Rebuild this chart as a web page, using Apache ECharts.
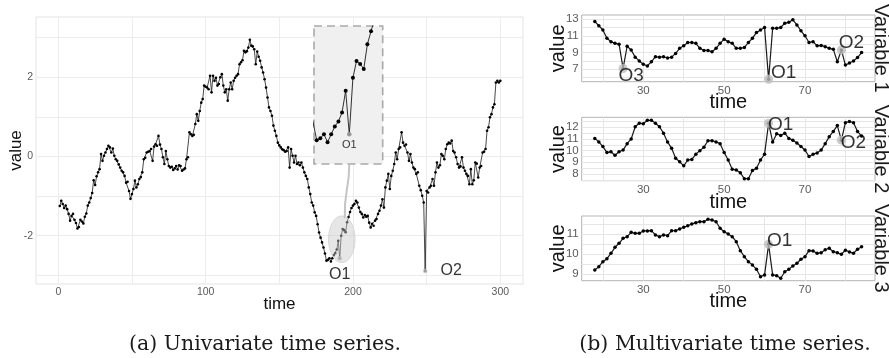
<!DOCTYPE html>
<html>
<head>
<meta charset="utf-8">
<script src="https://cdn.jsdelivr.net/npm/echarts@6/dist/echarts.min.js"></script>
<style>
  html, body { margin: 0; padding: 0; background: #fff; }
  #chart { width: 889px; height: 358px; }
</style>
</head>
<body>
<div id="chart"></div>
<script>
// ---- (a) univariate series, t = 1..300 ----
const uniStart = 1;
const uniValues = [
  -1.25, -1.12, -1.2, -1.3, -1.24, -1.33, -1.45, -1.62, -1.5, -1.45,
  -1.6, -1.68, -1.82, -1.78, -1.6, -1.64, -1.69, -1.52, -1.44, -1.24,
  -1.16, -1.05, -0.92, -0.6, -0.72, -0.5, -0.4, -0.32, 0.06, -0.11,
  0.02, 0.1, 0.19, 0.27, 0.23, 0.1, 0.2, 0.02, -0.07, -0.11,
  -0.2, -0.28, -0.36, -0.4, -0.49, -0.66, -0.64, -0.87, -1.07, -0.95,
  -0.82, -0.61, -0.78, -0.7, -0.57, -0.52, -0.4, -0.07, -0.03, 0.1,
  0.12, 0.14, 0.19, -0.11, 0.25, 0.31, 0.27, 0.52, 0.3, 0.19,
  -0.02, -0.19, 0.14, -0.07, -0.24, -0.28, -0.26, -0.34, -0.3, -0.24,
  -0.33, -0.22, -0.24, -0.36, -0.33, -0.3, -0.07, -0.02, 0.61, 0.56,
  0.52, 0.55, 0.82, 1.07, 0.9, 1.15, 1.36, 1.45, 1.79, 1.76,
  1.74, 1.7, 2.04, 1.62, 2.04, 1.91, 1.99, 1.79, 1.83, 2.0,
  2.08, 1.79, 1.62, 1.7, 1.41, 1.7, 1.87, 1.7, 1.91, 1.99,
  2.04, 2.08, 2.33, 2.38, 2.43, 2.67, 2.63, 2.66, 2.75, 2.95,
  2.8, 2.78, 2.71, 2.33, 2.65, 2.52, 2.42, 2.25, 2.12, 1.95,
  1.74, 1.49, 1.24, 1.15, 1.03, 0.78, 0.65, 0.52, 0.35, 0.28,
  0.23, 0.18, 0.16, 0.12, 0.14, 0.23, -0.28, 0.19, 0.02, -0.15,
  0.02, -0.19, -0.15, -0.22, -0.15, -0.28, -0.4, -0.49, -0.57, -0.78,
  -0.95, -1.16, -1.24, -1.41, -1.5, -1.71, -1.92, -2.05, -2.17, -2.3,
  -2.45, -2.63, -2.61, -2.57, -2.65, -2.57, -2.49, -2.44, -2.35, -2.13,
  -2.57, -2.0, -1.83, -1.86, -1.91, -1.66, -1.53, -1.4, -1.3, -1.24,
  -1.2, -1.12, -1.16, -1.29, -1.4, -1.45, -1.54, -1.48, -1.52, -1.5,
  -1.67, -1.79, -1.7, -1.75, -1.62, -1.58, -1.45, -1.37, -1.24, -1.08,
  -1.29, -0.78, -0.61, -0.44, -0.82, -0.49, -0.36, -0.19, 0.1, -0.07,
  0.19, 0.23, 0.61, 0.35, 0.27, 0.3, 0.1, -0.11, 0.06, -0.15,
  -0.28, -0.32, -0.44, -0.4, -0.74, -0.85, -0.99, -1.16, -2.89, -0.87,
  -0.91, -0.78, -0.74, -0.57, -0.74, -0.4, -0.15, -0.28, -0.22, 0.06,
  0.02, -0.07, 0.19, 0.31, 0.35, 0.33, 0.4, 0.14, 0.1, -0.02,
  -0.19, -0.28, -0.25, -0.02, -0.28, -0.36, -0.44, -0.49, -0.7, -0.32,
  -0.7, -0.6, -0.15, -0.18, -0.53, -0.28, -0.24, 0.1, 0.12, 0.19,
  0.65, 0.74, 0.99, 1.07, 1.24, 1.32, 1.87, 1.91, 1.87, 1.91
];
const uniOutliers = [[191, 'O1'], [249, 'O2']];
const uniXLabels = [0, 100, 200, 300];
const uniXGrid = [0, 50, 100, 150, 200, 250, 300];
const uniYLabels = [-2, 0, 2];
const uniYGrid = [-3, -2, -1, 0, 1, 2, 3];
const insetRange = [180, 200];   // points repeated in the zoom box

// ---- (b) multivariate series, t = 18..84 ----
const multiStart = 18;
const var1 = [
  12.7, 12.2, 11.7, 10.7, 10.3, 10.1, 10.0, 7.1, 9.75, 9.3,
  8.45, 8.0, 7.6, 7.4, 7.9, 8.5, 8.45, 8.5, 8.35, 8.45,
  8.9, 9.5, 9.8, 10.2, 10.2, 10.1, 9.5, 9.25, 9.25, 9.1,
  9.5, 10.1, 10.6, 10.3, 10.1, 9.5, 9.5, 9.6, 10.2, 10.7,
  11.4, 11.7, 12.0, 5.8, 11.9, 11.9, 12.0, 12.5, 12.6, 12.9,
  12.3, 11.6, 11.0, 10.2, 10.3, 9.8, 9.85, 9.7, 9.5, 9.4,
  7.9, 9.3, 7.5, 7.75, 8.0, 8.4, 9.0
];
const var2 = [
  11.05, 10.75, 10.35, 9.85, 9.9, 9.6, 9.9, 10.05, 10.6, 11.0,
  12.05, 12.35, 12.3, 12.6, 12.6, 12.35, 12.05, 11.5, 10.75, 10.2,
  9.35, 9.05, 8.7, 9.2, 9.25, 9.7, 10.0, 10.3, 10.85, 10.85,
  10.75, 10.6, 9.85, 9.2, 8.4, 8.35, 8.1, 7.6, 7.6, 8.3,
  8.5, 9.2, 9.7, 12.35, 10.75, 11.45, 11.3, 11.5, 11.05, 10.9,
  10.65, 10.35, 10.05, 9.5, 9.7, 9.8, 10.05, 10.6, 11.2, 11.65,
  12.15, 10.9, 12.4, 12.5, 12.4, 11.65, 11.25
];
const var3 = [
  9.22, 9.38, 9.63, 9.78, 10.05, 10.35, 10.55, 10.8, 10.88, 11.1,
  11.05, 11.05, 11.17, 11.17, 11.18, 10.97, 10.88, 10.97, 10.93, 11.18,
  11.18, 11.27, 11.35, 11.43, 11.52, 11.58, 11.63, 11.63, 11.75, 11.72,
  11.63, 11.3, 11.13, 11.02, 10.88, 10.63, 10.18, 9.88, 9.63, 9.47,
  9.25, 8.88, 8.97, 10.5, 8.97, 8.93, 8.8, 9.13, 9.25, 9.42,
  9.55, 9.75, 9.88, 10.18, 10.17, 10.05, 10.08, 10.23, 10.3, 10.13,
  10.08, 10.0, 10.2, 10.12, 10.05, 10.25, 10.38
];
const var1Outliers = [[25, 'O3'], [61, 'O1'], [79, 'O2']];
const var2Outliers = [[61, 'O1'], [79, 'O2']];
const var3Outliers = [[61, 'O1']];
const multiXLabels = [30, 50, 70];
const multiXGrid = [20, 30, 40, 50, 60, 70, 80];
const var1YLabels = [7, 9, 11, 13];
const var1YGrid = [6, 7, 8, 9, 10, 11, 12, 13];
const var2YLabels = [8, 10, 12];
const var2YLabelsOdd = [9, 11];   // drawn on a twin axis so none get dropped
const var2YGrid = [7.5, 8, 8.5, 9, 9.5, 10, 10.5, 11, 11.5, 12, 12.5];
const var3YLabels = [9, 10, 11];
const var3YGrid = [9, 9.5, 10, 10.5, 11, 11.5];
const stripNames = ['Variable 1', 'Variable 2', 'Variable 3'];
const captions = ['(a) Univariate time series.', '(b) Multivariate time series.'];

// label nudges (pixels) for the outlier tags
const nudge = {
  main: { O1: [0, 16], O2: [26, 0] },
  inset: { O1: [0, 11] },
  v1: { O3: [8, 7], O1: [15, -7], O2: [10, -7] },
  v2: { O1: [12, 2], O2: [12, 3] },
  v3: { O1: [11, -4] }
};

const SANS = 'Liberation Sans';
const pairs = (start, vals) => vals.map((v, i) => [start + i, v]);
const pick = (start, vals, outs) => outs.map(([t, name]) => ({ value: [t, vals[t - start]], name }));

function axis(gridIndex, min, max, labels, lines, o) {
  return Object.assign({
    type: 'value', gridIndex, min, max,
    axisLine: { show: false },
    axisTick: { show: false, customValues: lines },
    axisLabel: { customValues: labels, color: '#5a5a5a', fontFamily: SANS, fontSize: 11.5, margin: 3,
      interval: 0, showMinLabel: true, showMaxLabel: true, hideOverlap: false },
    splitLine: { show: true, lineStyle: { color: '#e6e6e6', width: 1 } },
    nameLocation: 'middle',
    nameMoveOverlap: false,
    nameTextStyle: { color: '#111', fontFamily: SANS, fontSize: 20 }
  }, o);
}

function lineSeries(xi, data, size, width) {
  return {
    type: 'line', xAxisIndex: xi, yAxisIndex: xi, data,
    symbol: 'circle', symbolSize: size, showSymbol: true,
    lineStyle: { color: '#1a1a1a', width }, itemStyle: { color: '#000' },
    animation: false, silent: true, z: 4
  };
}

function outlierSeries(xi, data, size, fontSize, nud, z) {
  return {
    type: 'scatter', xAxisIndex: xi, yAxisIndex: xi, symbolSize: size,
    itemStyle: { color: '#bdbdbd' }, z: z || 6, animation: false, silent: true,
    data: data.map(d => Object.assign(d, {
      label: { show: true, position: 'inside', offset: nud[d.name], formatter: '{b}',
        color: '#000', fontFamily: SANS, fontSize }
    }))
  };
}

const noBounds = { outerBoundsMode: 'none', containLabel: false, show: true };
const uniData = pairs(uniStart, uniValues);
const insetData = uniData.filter(p => p[0] >= insetRange[0] && p[0] <= insetRange[1]);
const multiGrid = { left: 581.7, width: 293.3 };
const multiX = [14.76, 87.32];
const var2Y = [7.426, 12.857];
const smallLabel = { color: '#5a5a5a', fontFamily: SANS, fontSize: 10.5, margin: 3, interval: 0, showMinLabel: true, showMaxLabel: true };

const chart = echarts.init(document.getElementById('chart'));
chart.setOption({
  animation: false,
  textStyle: { fontFamily: SANS },
  grid: [
    Object.assign({ left: 36, top: 17, width: 487, height: 267, borderColor: '#e3e3e3', borderWidth: 1 }, noBounds),
    Object.assign({ left: 314, top: 26, width: 68.7, height: 138, z: 3,
      backgroundColor: '#f0f0f0', borderColor: '#a9a9a9', borderWidth: 1.6, borderType: [8, 5] }, noBounds),
    Object.assign({ left: multiGrid.left, width: multiGrid.width, top: 15, height: 66.7, borderColor: '#b3b3b3', borderWidth: 1 }, noBounds),
    Object.assign({ left: multiGrid.left, width: multiGrid.width, top: 117.3, height: 63.4, borderColor: '#b3b3b3', borderWidth: 1 }, noBounds),
    Object.assign({ left: multiGrid.left, width: multiGrid.width, top: 216, height: 64.7, borderColor: '#b3b3b3', borderWidth: 1 }, noBounds)
  ],
  xAxis: [
    axis(0, -15.14, 315.4, uniXLabels, uniXGrid, {
      name: 'time', nameGap: 12, nameTextStyle: { color: '#111', fontFamily: SANS, fontSize: 17 },
      axisLabel: Object.assign({ customValues: uniXLabels }, smallLabel),
      splitLine: { show: true, lineStyle: { color: '#ececec', width: 1 } }
    }),
    { type: 'value', gridIndex: 1, min: 181.25, max: 200.23, show: false },
    axis(2, multiX[0], multiX[1], multiXLabels, multiXGrid, { name: 'time', nameGap: 11 }),
    axis(3, multiX[0], multiX[1], multiXLabels, multiXGrid, { name: 'time', nameGap: 12 }),
    axis(4, multiX[0], multiX[1], multiXLabels, multiXGrid, { name: 'time', nameGap: 11 })
  ],
  yAxis: [
    axis(0, -3.22, 3.523, uniYLabels, uniYGrid, {
      name: 'value', nameGap: 11, nameTextStyle: { color: '#111', fontFamily: SANS, fontSize: 17 },
      axisLabel: Object.assign({ customValues: uniYLabels }, smallLabel),
      splitLine: { show: true, lineStyle: { color: '#ececec', width: 1 } }
    }),
    { type: 'value', gridIndex: 1, min: -2.87, max: -1.476, show: false },
    axis(2, 5.52, 13.48, var1YLabels, var1YGrid, { name: 'value', nameGap: 13 }),
    axis(3, var2Y[0], var2Y[1], var2YLabels, var2YGrid, { name: 'value', nameGap: 13 }),
    axis(4, 8.68, 11.915, var3YLabels, var3YGrid, { name: 'value', nameGap: 13 }),
    axis(3, var2Y[0], var2Y[1], var2YLabelsOdd, var2YLabelsOdd, { position: 'left', splitLine: { show: false } })
  ],
  series: [
    lineSeries(0, uniData, 2.6, 0.8),
    outlierSeries(0, pick(uniStart, uniValues, uniOutliers), 4.5, 16, nudge.main),
    Object.assign(lineSeries(1, insetData, 4, 0.9), { clip: true, z: 7 }),
    outlierSeries(1, pick(uniStart, uniValues, [uniOutliers[0]]), 4.5, 11, nudge.inset, 8),
    lineSeries(2, pairs(multiStart, var1), 3.5, 1.2),
    lineSeries(3, pairs(multiStart, var2), 3.5, 1.2),
    lineSeries(4, pairs(multiStart, var3), 3.5, 1.2),
    outlierSeries(2, pick(multiStart, var1, var1Outliers), 9, 19, nudge.v1),
    outlierSeries(3, pick(multiStart, var2, var2Outliers), 9, 19, nudge.v2),
    outlierSeries(4, pick(multiStart, var3, var3Outliers), 9, 19, nudge.v3)
  ]
});

// halo around O1 in the main panel and the connector up to the zoom box
const halo = { t: 192.4, v: -2.09, dt: 9, dv: 0.59 };
const c = chart.convertToPixel({ gridIndex: 0 }, [halo.t, halo.v]);
const e = chart.convertToPixel({ gridIndex: 0 }, [halo.t + halo.dt, halo.v + halo.dv]);
const rx = e[0] - c[0], ry = c[1] - e[1];
const boxFoot = chart.convertToPixel({ gridIndex: 1 }, [uniOutliers[0][0], -2.87]);
const tip = [c[0] + 3, c[1] - ry + 2];

const stripCenters = [15 + 66.7 / 2, 117.3 + 63.4 / 2, 216 + 64.7 / 2];
chart.setOption({
  graphic: [
    { type: 'ellipse', z: 5, shape: { cx: c[0], cy: c[1], rx, ry },
      style: { fill: 'rgba(200,200,200,0.45)', stroke: '#d6d6d6', lineWidth: 1 } },
    { type: 'bezierCurve', z: 5,
      shape: { x1: boxFoot[0], y1: boxFoot[1], cpx1: boxFoot[0], cpy1: boxFoot[1] + 26,
               cpx2: tip[0] - 1, cpy2: tip[1] - 26, x2: tip[0], y2: tip[1] },
      style: { stroke: '#c4c4c4', lineWidth: 2, fill: null } },
    { type: 'text', x: 265, y: 345,
      style: { text: captions[0], fontFamily: 'DejaVu Serif', fontSize: 20.5, fill: '#1a1a1a', align: 'center', verticalAlign: 'middle' } },
    { type: 'text', x: 725, y: 345,
      style: { text: captions[1], fontFamily: 'DejaVu Serif', fontSize: 20.5, fill: '#1a1a1a', align: 'center', verticalAlign: 'middle' } }
  ].concat(stripNames.map((s, i) => ({
    type: 'text', x: 881, y: stripCenters[i], rotation: -Math.PI / 2,
    style: { text: s, fontFamily: SANS, fontSize: 20, fill: '#1a1a1a', align: 'center', verticalAlign: 'middle' }
  })))
});
window.addEventListener('resize', () => chart.resize());
</script>
</body>
</html>
